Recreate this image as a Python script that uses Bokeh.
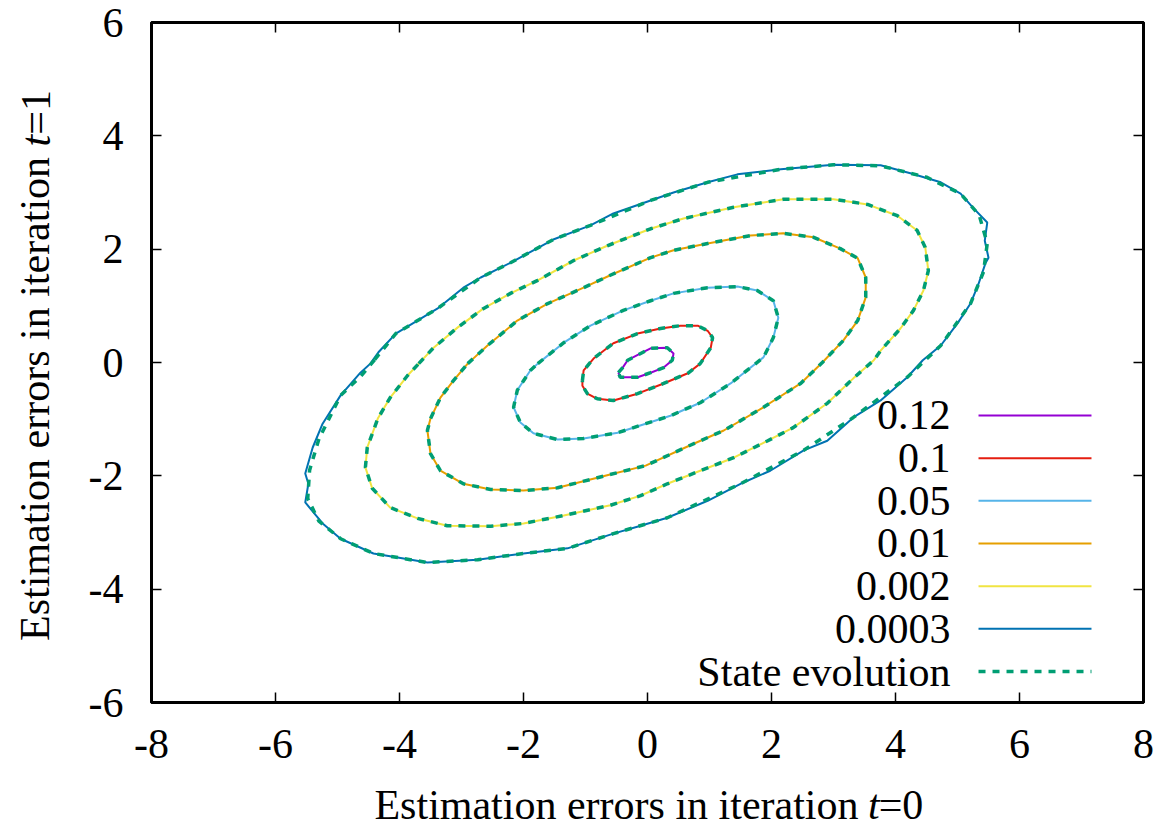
from bokeh.plotting import figure
from bokeh.layouts import row, column
from bokeh.models import Range1d, LinearAxis, FixedTicker, Label, ColumnDataSource, CustomLabelingPolicy
from bokeh.embed import file_html
from bokeh.resources import INLINE
from bokeh.core.properties import value

# ---------------- data ----------------
x_ticks = [-8, -6, -4, -2, 0, 2, 4, 6, 8]
y_ticks = [-6, -4, -2, 0, 2, 4, 6]

levels = ["0.12", "0.1", "0.05", "0.01", "0.002", "0.0003"]
level_colors = ["#9400d3", "#e51e10", "#56b4e9", "#e69f00", "#f0e442", "#0072b2"]
se_label = "State evolution"
se_color = "#009e73"

c012_x = [-0.47, -0.40, -0.32, -0.11, 0.05, 0.32, 0.42, 0.40, 0.26, 0.05, -0.16, -0.35, -0.44]
c012_y = [-0.18, -0.09, 0.04, 0.16, 0.25, 0.26, 0.16, 0.04, -0.09, -0.18, -0.26, -0.26, -0.26]

c01_x = [-1.05, -1.03, -0.87, -0.55, -0.16, 0.21, 0.53, 0.81, 0.97, 1.05, 1.02, 0.85, 0.65, 0.26, -0.16, -0.55, -0.81, -0.97, -1.05]
c01_y = [-0.32, -0.14, 0.07, 0.34, 0.51, 0.60, 0.65, 0.65, 0.56, 0.44, 0.26, -0.02, -0.19, -0.37, -0.55, -0.67, -0.64, -0.55, -0.41]

c005_x = [-1.77, -1.35, -0.92, -0.39, 0.05, 0.42, 0.97, 1.45, 1.77, 2.03, 2.11, 2.03, 1.87, 1.34, 0.85, 0.37, -0.03, -0.48, -1.03, -1.45, -1.84, -2.05, -2.16, -2.10, -1.89]
c005_y = [-0.02, 0.35, 0.65, 0.92, 1.09, 1.22, 1.32, 1.34, 1.27, 1.09, 0.79, 0.44, 0.09, -0.37, -0.71, -0.94, -1.08, -1.24, -1.34, -1.36, -1.25, -1.06, -0.79, -0.49, -0.14]

c001_x = [-2.90, -2.58, -2.10, -1.61, -1.03, -0.60, 0.05, 0.42, 0.97, 1.66, 2.19, 2.68, 3.11, 3.39, 3.52, 3.52, 3.39, 3.16, 2.82, 2.47, 1.87, 1.23, 0.69, -0.03, -0.65, -1.45, -2.00, -2.53, -2.97, -3.34, -3.50, -3.55, -3.50, -3.34, -3.13]
c001_y = [-0.02, 0.30, 0.74, 1.04, 1.32, 1.54, 1.85, 1.98, 2.10, 2.24, 2.28, 2.21, 2.01, 1.84, 1.50, 1.15, 0.74, 0.39, 0.00, -0.37, -0.79, -1.20, -1.46, -1.82, -1.99, -2.21, -2.26, -2.24, -2.14, -1.91, -1.61, -1.20, -0.99, -0.62, -0.32]

c0002_x = [-3.69, -3.45, -3.06, -2.65, -2.21, -1.77, -1.19, -0.65, 0.05, 0.58, 1.39, 2.19, 3.00, 3.55, 4.03, 4.35, 4.48, 4.53, 4.45, 4.29, 4.08, 3.76, 3.65, 3.32, 2.90, 2.35, 1.94, 1.39, 0.85, 0.32, -0.11, -0.60, -1.35, -2.00, -2.53, -3.23, -3.71, -4.15, -4.44, -4.55, -4.52, -4.35, -4.15, -3.87]
c0002_y = [-0.02, 0.26, 0.62, 0.95, 1.22, 1.45, 1.80, 2.06, 2.36, 2.54, 2.74, 2.88, 2.88, 2.79, 2.59, 2.33, 2.03, 1.62, 1.27, 0.92, 0.60, 0.21, 0.04, -0.28, -0.72, -1.15, -1.38, -1.68, -1.91, -2.14, -2.35, -2.52, -2.70, -2.84, -2.89, -2.88, -2.75, -2.56, -2.22, -1.85, -1.50, -0.99, -0.62, -0.23]

c00003_x = [-4.47, -4.34, -4.06, -3.39, -2.97, -2.69, -2.21, -1.52, -0.92, -0.55, 0.05, 0.42, 0.97, 1.45, 2.15, 3.00, 3.76, 4.24, 4.73, 5.05, 5.26, 5.48, 5.44, 5.50, 5.45, 5.34, 5.21, 5.00, 4.73, 4.44, 4.19, 3.76, 3.32, 2.90, 2.52, 1.98, 1.50, 0.97, 0.32, -0.11, -0.55, -1.29, -2.00, -2.74, -3.55, -4.03, -4.42, -4.95, -5.24, -5.52, -5.47, -5.52, -5.40, -5.24, -4.95, -4.63]
c00003_y = [-0.02, 0.18, 0.51, 0.95, 1.32, 1.50, 1.76, 2.17, 2.42, 2.63, 2.86, 3.00, 3.18, 3.32, 3.41, 3.49, 3.48, 3.34, 3.18, 2.98, 2.72, 2.47, 2.15, 1.85, 1.75, 1.39, 1.04, 0.69, 0.30, 0.04, -0.26, -0.67, -0.97, -1.38, -1.55, -1.91, -2.14, -2.44, -2.74, -2.88, -3.02, -3.28, -3.37, -3.48, -3.53, -3.44, -3.37, -3.11, -2.84, -2.47, -2.14, -1.96, -1.50, -1.08, -0.58, -0.18]

# state evolution (smooth) curves
se00003_x = [-4.40, -4.06, -3.39, -2.69, -2.21, -1.52, -0.92, 0.05, 0.97, 2.15, 3.00, 3.76, 4.50, 5.05, 5.35, 5.48, 5.42, 5.21, 4.73, 4.19, 3.32, 2.52, 1.50, 0.32, -0.55, -1.29, -2.00, -2.74, -3.55, -4.42, -4.95, -5.30, -5.48, -5.45, -5.30, -4.95, -4.63]
se00003_y = [0.05, 0.51, 0.95, 1.50, 1.76, 2.17, 2.42, 2.86, 3.18, 3.41, 3.49, 3.47, 3.27, 2.98, 2.60, 2.10, 1.60, 1.04, 0.30, -0.26, -0.97, -1.55, -2.14, -2.74, -3.02, -3.28, -3.37, -3.48, -3.53, -3.37, -3.11, -2.80, -2.40, -1.90, -1.35, -0.58, -0.25]

contours_x = [c012_x, c01_x, c005_x, c001_x, c0002_x, c00003_x]
contours_y = [c012_y, c01_y, c005_y, c001_y, c0002_y, c00003_y]
se_x = [c012_x, c01_x, c005_x, c001_x, c0002_x, se00003_x]
se_y = [c012_y, c01_y, c005_y, c001_y, c0002_y, se00003_y]

x_title = ["Estimation errors in iteration", "t", "=0"]
y_title = ["Estimation errors in iteration", "t", "=1"]

# ---------------- layout sizes ----------------
FONT = "Liberation Serif"
FS = "42px"
LEFT_W = 65
BOTTOM_H = 47
MAIN_W = 1158 - LEFT_W
MAIN_H = 827 - BOTTOM_H


def blank_fig(w, h):
    f = figure(width=w, height=h, x_range=Range1d(0, w), y_range=Range1d(0, h),
               output_backend="svg", toolbar_location=None,
               x_axis_type=None, y_axis_type=None, min_border=0)
    f.outline_line_color = None
    f.xgrid.visible = False
    f.ygrid.visible = False
    f.background_fill_color = "white"
    f.border_fill_color = "white"
    return f


p = figure(width=MAIN_W, height=MAIN_H, x_range=Range1d(-8, 8), y_range=Range1d(-6, 6),
           output_backend="svg", toolbar_location=None,
           min_border_left=151 - LEFT_W, min_border_right=15, min_border_top=22,
           min_border_bottom=MAIN_H - 702)
p.xgrid.visible = False
p.ygrid.visible = False
p.outline_line_color = "black"
p.outline_line_width = 3
p.background_fill_color = "white"
p.border_fill_color = "white"

hide_all = "const all = Array.from(indices); for (const i of all) { indices.unset(i) }"


def style_axis(ax, ticks, show_labels, standoff):
    ax.ticker = FixedTicker(ticks=ticks, minor_ticks=[])
    ax.axis_line_width = 3
    ax.axis_line_color = "black"
    ax.major_tick_in = 10
    ax.major_tick_out = 0
    ax.major_tick_line_width = 1.5
    ax.major_tick_line_color = "black"
    ax.minor_tick_in = 0
    ax.minor_tick_out = 0
    ax.major_label_text_font = FONT
    ax.major_label_text_color = "black"
    ax.major_label_standoff = standoff
    ax.major_label_overrides = {t: str(t) for t in ticks}
    ax.major_label_text_font_size = FS
    if not show_labels:
        ax.major_label_standoff = 0
        ax.major_label_text_font_size = "10px"
        ax.major_label_policy = CustomLabelingPolicy(code=hide_all)


style_axis(p.xaxis[0], x_ticks, True, 27)
style_axis(p.yaxis[0], y_ticks, True, 28)
top_ax = LinearAxis()
right_ax = LinearAxis()
style_axis(top_ax, x_ticks, False, 0)
style_axis(right_ax, y_ticks, False, 0)
p.add_layout(top_ax, "above")
p.add_layout(right_ax, "right")

# contour lines
for xs, ys, col in zip(contours_x, contours_y, level_colors):
    p.line(xs + xs[:1], ys + ys[:1], line_color=col, line_width=2)

# state evolution dashed
for xs, ys in zip(se_x, se_y):
    p.line(xs + xs[:1], ys + ys[:1], line_color=se_color, line_width=3.5, line_dash="7 7")

# legend (gnuplot style: text right aligned, sample on the right)
leg_labels = levels + [se_label]
row_y = [-0.935 - 0.753 * i for i in range(len(leg_labels))]
leg_text_x = 4.887
leg_x0, leg_x1 = 5.339, 7.161

src_lines = ColumnDataSource(dict(x0=[leg_x0] * 6, x1=[leg_x1] * 6, y=row_y[:6], c=level_colors))
p.segment(x0="x0", x1="x1", y0="y", y1="y", line_color="c", line_width=2, source=src_lines)
p.segment(x0=[leg_x0], x1=[leg_x1], y0=[row_y[6]], y1=[row_y[6]], line_color=se_color,
          line_width=3.5, line_dash="7 7")
src_text = ColumnDataSource(dict(x=[leg_text_x] * len(leg_labels), y=row_y, t=leg_labels))
p.text(x="x", y="y", text="t", source=src_text, text_align="right", text_baseline="alphabetic",
       text_font=value(FONT), text_font_size=FS, text_color="black")

lab_kw = dict(text_font=FONT, text_font_size=FS, text_color="black", text_baseline="alphabetic")

# x-axis title (below), pixel coordinates in its own strip
fb = blank_fig(MAIN_W, BOTTOM_H)
bx = 779.0
by = 23
fb.add_layout(Label(x=bx, y=by, text=x_title[0], text_align="right", **lab_kw))
fb.add_layout(Label(x=bx + 10.5, y=by, text=x_title[1], text_align="left", text_font_style="italic", **lab_kw))
fb.add_layout(Label(x=bx + 22.2, y=by, text=x_title[2], text_align="left", **lab_kw))

# y-axis title (left), rotated
fl = blank_fig(LEFT_W, 827)
ly = 827 - 156.4
lx = 35
fl.add_layout(Label(x=lx, y=ly, text=y_title[0], text_align="right", angle=1.5707963, **lab_kw))
fl.add_layout(Label(x=lx, y=ly + 10.5, text=y_title[1], text_align="left", text_font_style="italic",
                    angle=1.5707963, **lab_kw))
fl.add_layout(Label(x=lx, y=ly + 22.2, text=y_title[2], text_align="left", angle=1.5707963, **lab_kw))

layout = row(fl, column(p, fb, spacing=0), spacing=0)
open("out.html", "w").write(file_html(layout, INLINE))
